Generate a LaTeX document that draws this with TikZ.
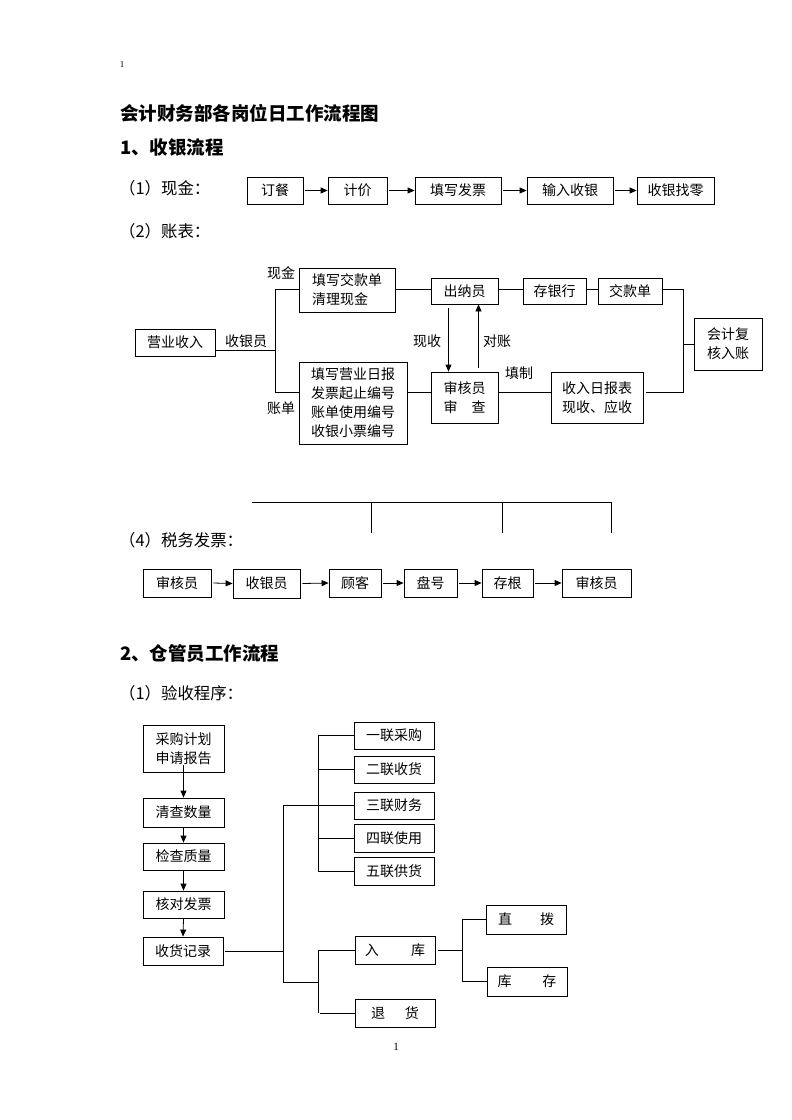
\documentclass[tikz,border=0pt]{standalone}
\usepackage{fontspec}
\setmainfont{Noto Sans CJK SC}
\newfontfamily\serifnum{Liberation Serif}
\usetikzlibrary{arrows.meta}
\newcommand\bx[6]{\node[box, minimum width={(#4-#2)*1pt}, minimum height={(#5-#3)*1pt}] (#1) at ({(#2+#4)/2},{(#3+#5)/2}) {#6};}
\begin{document}
\begin{tikzpicture}[x=1pt,y=-1pt,
  box/.style={draw, line width=0.8pt, inner sep=0pt, align=left, font=\fontsize{14}{19}\selectfont},
  ln/.style={line width=0.8pt},
  arr/.style={line width=0.8pt, -{Triangle[length=7pt,width=6pt]}},
  lbl/.style={font=\fontsize{14}{16}\selectfont, inner sep=0pt},
  head/.style={font=\fontsize{18.5}{20}\selectfont\bfseries, inner sep=0pt, anchor=west},
  sub/.style={font=\fontsize{16.4}{18}\selectfont, inner sep=0pt, anchor=west}]
\useasboundingbox (0,0) rectangle (792,1120);
% page numbers and headings
\node[font=\serifnum\fontsize{9}{10}\selectfont, inner sep=0pt] (pn1) at (122,65) {1};
\node[head] (title) at (120,113) {会计财务部各岗位日工作流程图};
\node[head] (h1) at (120,147) {1、收银流程};
\node[sub] (s11) at (119,188) {（1）现金：};
\node[sub] (s12) at (119,231) {（2）账表：};
\node[sub] (s14) at (119,540) {（4）税务发票：};
\node[head] (h2) at (120,653) {2、仓管员工作流程};
\node[sub] (s21) at (119,693) {（1）验收程序：};
\node[font=\serifnum\fontsize{11}{12}\selectfont, inner sep=0pt] (pn2) at (396,1047) {1};

% (1) cash row
\bx{d1}{247}{177}{303}{204}{订餐}
\bx{d2}{328}{177}{387}{204}{计价}
\bx{d3}{415}{177}{501}{204}{填写发票}
\bx{d4}{527}{177}{613}{204}{输入收银}
\bx{d5}{637}{177}{714}{204}{收银找零}
\draw[arr] ([xshift=2pt]d1.east) -- (d2.west);
\draw[arr] ([xshift=2pt]d2.east) -- (d3.west);
\draw[arr] ([xshift=2pt]d3.east) -- (d4.west);
\draw[arr] ([xshift=2pt]d4.east) -- (d5.west);

% (2) accounts
\bx{yy}{135}{329}{215}{356}{营业收入}
\bx{jk}{299}{268}{395}{312}{填写交款单\\清理现金}
\bx{yr}{299}{362}{407}{444}{填写营业日报\\发票起止编号\\账单使用编号\\收银小票编号}
\bx{cn}{431}{278}{498}{304}{出纳员}
\bx{cyh}{523}{278}{586}{304}{存银行}
\bx{jkd}{598}{278}{662}{304}{交款单}
\bx{kj}{694}{318}{762}{370}{会计复\\核入账}
\bx{sh}{431}{372}{498}{423}{审核员\\审\hspace{1em}查}
\bx{sr}{551}{372}{643}{423}{收入日报表\\现收、应收}
\coordinate (ja) at (275,350);
\coordinate (jt) at (275,289);
\coordinate (jb) at (275,392);
\coordinate (jr1) at (683,289);
\coordinate (jr2) at (683,392);
\draw[ln] (yy.east |- ja) -- (ja);
\draw[ln] (jt) -- (jb);
\draw[ln] (jt) -- (jt -| jk.west);
\draw[ln] (jb) -- (jb -| yr.west);
\draw[ln] (jt -| jk.east) -- (jt -| cn.west);
\draw[ln] (jt -| cn.east) -- (jt -| cyh.west);
\draw[ln] (jt -| cyh.east) -- (jt -| jkd.west);
\draw[ln] (jt -| jkd.east) -- (jr1) -- (jr2) -- ([xshift=3pt]jr2 -| sr.east);
\draw[ln] (jr1 |- kj.west) -- (kj.west);
\draw[ln] (jb -| yr.east) -- (jb -| sh.west);
\draw[ln] (jb -| sh.east) -- (jb -| sr.west);
\draw[arr] ([xshift=-16pt,yshift=-4pt]cn.south) -- ([xshift=-16pt]sh.north);
\draw[arr] ([xshift=14pt,yshift=4pt]sh.north) -- ([xshift=14pt]cn.south);
\node[lbl] (lxj) at (281,273) {现金};
\node[lbl] (lsy) at (246,341) {收银员};
\node[lbl] (lzd) at (281,408) {账单};
\node[lbl] (lxs) at (427,341) {现收};
\node[lbl] (ldz) at (497,341) {对账};
\node[lbl] (ltz) at (519,373) {填制};

% (4) tax invoice
\coordinate (ta) at (252,502);
\coordinate (tb) at (611,502);
\coordinate (tc) at (371,502);
\coordinate (td) at (502,502);
\draw[ln] (ta) -- (tb);
\draw[ln] (tc) -- ++(0,31);
\draw[ln] (td) -- ++(0,31);
\draw[ln] (tb) -- ++(0,31);
\bx{t1}{143}{569}{211}{597}{审核员}
\bx{t2}{233}{569}{300}{598}{收银员}
\bx{t3}{329}{569}{381}{597}{顾客}
\bx{t4}{404}{569}{457}{597}{盘号}
\bx{t5}{482}{569}{533}{597}{存根}
\bx{t6}{562}{569}{631}{597}{审核员}
\draw[arr] ([xshift=2pt]t1.east) -- (t2.west);
\draw[arr] ([xshift=2pt]t2.east) -- (t3.west);
\draw[arr] ([xshift=2pt]t3.east) -- (t4.west);
\draw[arr] ([xshift=2pt]t4.east) -- (t5.west);
\draw[arr] ([xshift=2pt]t5.east) -- (t6.west);

% 2 warehouse
\bx{c1}{143}{725}{224}{772}{采购计划\\申请报告}
\bx{c2}{143}{798}{224}{827}{清查数量}
\bx{c3}{143}{843}{224}{870}{检查质量}
\bx{c4}{143}{891}{224}{918}{核对发票}
\bx{c5}{143}{937}{223}{965}{收货记录}
\draw[arr] ([yshift=7pt]c1.south) -- (c2.north);
\draw[arr] (c2.south) -- (c3.north);
\draw[arr] (c3.south) -- (c4.north);
\draw[arr] (c4.south) -- (c5.north);
\bx{u1}{354}{722}{434}{749}{一联采购}
\bx{u2}{354}{756}{434}{783}{二联收货}
\bx{u3}{354}{792}{434}{819}{三联财务}
\bx{u4}{354}{824}{434}{852}{四联使用}
\bx{u5}{354}{857}{434}{885}{五联供货}
\bx{r1}{355}{936}{435}{964}{入\hspace{2.3em}库}
\bx{r2}{355}{999}{435}{1027}{退\hspace{1.4em}货}
\bx{q1}{486}{905}{566}{934}{直\hspace{2em}拨}
\bx{q2}{487}{967}{567}{996}{库\hspace{2.2em}存}
\coordinate (ka) at (283,951);
\coordinate (kt) at (283,805.5);
\coordinate (kb) at (283,982);
\coordinate (kv) at (318,805.5);
\coordinate (kw) at (318,982);
\draw[ln] ([xshift=2pt]c5.east |- ka) -- (ka);
\draw[ln] (kt) -- (kb);
\draw[ln] (kt) -- (u3.west);
\draw[ln] (kv |- u1.west) -- (kv |- u5.west);
\draw[ln] (kv |- u1.west) -- (u1.west);
\draw[ln] (kv |- u2.west) -- (u2.west);
\draw[ln] (kv |- u4.west) -- (u4.west);
\draw[ln] (kv |- u5.west) -- (u5.west);
\draw[ln] (kb) -- (kw);
\draw[ln] (kw |- r1.west) -- (kw |- r2.west);
\draw[ln] (kw |- r1.west) -- (r1.west);
\draw[ln] ([xshift=2pt]kw |- r2.west) -- (r2.west);
\coordinate (kx) at (462,950);
\draw[ln] ([xshift=3pt]r1.east) -- (kx);
\draw[ln] (kx |- q1.west) -- (kx |- q2.west);
\draw[ln] (kx |- q1.west) -- (q1.west);
\draw[ln] (kx |- q2.west) -- (q2.west);
\end{tikzpicture}
\end{document}
